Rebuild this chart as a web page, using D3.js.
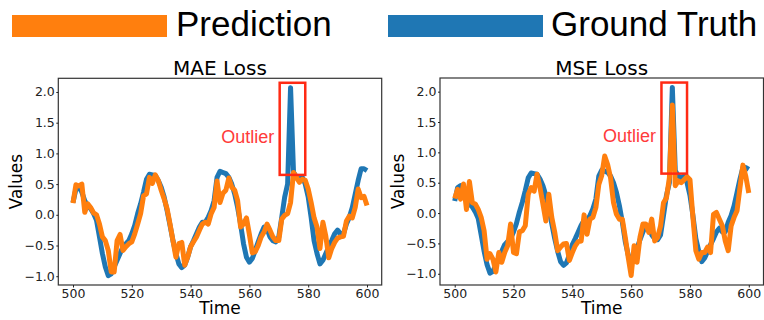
<!DOCTYPE html>
<html>
<head>
<meta charset="utf-8">
<script src="https://cdnjs.cloudflare.com/ajax/libs/d3/7.8.5/d3.min.js"></script>
<style>
body { margin: 0; background: #fff; }
svg { display: block; }
.tick text { font-family: "DejaVu Sans", sans-serif; font-size: 12.5px; fill: #222; }
.tick line { stroke: #222; }
.domain { display: none; }
</style>
</head>
<body>
<div id="chart"></div>
<script>
var width = 764, height = 320;

var time_start = 500, time_end = 600;

var ground_truth = [
    0.2, 0.42, 0.45, 0.37, 0.23, 0.15, 0.1, 0.02, -0.09, -0.36,
    -0.63, -0.85, -0.99, -0.96, -0.85, -0.74, -0.63, -0.52, -0.47, -0.42,
    -0.31, -0.17, 0.02, 0.18, 0.37, 0.58, 0.66, 0.65, 0.64, 0.56,
    0.45, 0.29, 0.07, -0.17, -0.42, -0.63, -0.8, -0.86, -0.82, -0.69,
    -0.52, -0.42, -0.31, -0.2, -0.12, -0.12, -0.04, 0.07, 0.23, 0.61,
    0.71, 0.69, 0.67, 0.61, 0.5, 0.34, 0.12, -0.15, -0.47, -0.69,
    -0.77, -0.71, -0.58, -0.44, -0.31, -0.2, -0.23, -0.36, -0.42, -0.44,
    -0.36, -0.04, 0.29, 0.5, 2.07, 0.7, 0.61, 0.58, 0.61, 0.5,
    0.29, -0.04, -0.42, -0.63, -0.8, -0.74, -0.63, -0.52, -0.42, -0.31,
    -0.25, -0.31, -0.31, -0.15, -0.04, 0.12, 0.34, 0.56, 0.75, 0.75,
    0.72
];

var mae_prediction = [
    0.19, 0.49, 0.47, 0.5, 0.04, 0.18, 0.12, 0.03, 0.0, -0.15,
    -0.36, -0.42, -0.58, -0.93, -0.93, -0.42, -0.32, -0.58, -0.52, -0.47,
    -0.44, -0.31, -0.15, 0.02, 0.31, 0.34, 0.61, 0.51, 0.65, 0.56,
    0.4, 0.26, 0.1, -0.15, -0.42, -0.69, -0.47, -0.45, -0.82, -0.69,
    -0.52, -0.44, -0.36, -0.25, -0.15, -0.12, -0.15, 0.02, 0.12, 0.55,
    0.2, 0.35, 0.4, 0.6, 0.45, 0.4, 0.23, -0.2, -0.15, -0.05,
    -0.32, -0.62, -0.6, -0.5, -0.36, -0.28, -0.15, -0.25, -0.36, -0.42,
    -0.42, -0.07, -0.01, 0.02, 0.2, 0.69, 0.61, 0.53, 0.58, 0.56,
    0.42, 0.2, -0.05, -0.2, -0.55, -0.12, -0.35, -0.7, -0.55, -0.45,
    -0.38, -0.36, -0.35, -0.1, -0.02, -0.05, 0.12, 0.42, 0.28, 0.3,
    0.15
];

var mse_prediction = [
    0.24, 0.39, 0.23, 0.48, 0.06, 0.52, 0.17, 0.15, 0.06, -0.07,
    -0.29, -0.76, -0.67, -0.76, -0.97, -0.65, -0.81, -0.65, -0.54, -0.18,
    -0.65, -0.67, -0.31, -0.29, -0.21, 0.31, 0.42, 0.36, 0.64, 0.42,
    0.15, -0.13, 0.31, -0.07, -0.31, -0.62, -0.56, -0.51, -0.5, -0.78,
    -0.65, -0.54, -0.47, -0.46, -0.03, -0.35, -0.1, -0.07, 0.09, 0.47,
    0.62, 0.94, 0.8, 0.58, 0.17, -0.02, -0.1, -0.1, -0.4, -0.73,
    -1.03, -0.54, -0.81, -0.4, -0.18, -0.18, -0.32, -0.1, -0.46, -0.4,
    -0.21, 0.17, 0.25, 0.58, 1.78, 0.45, 0.53, 0.5, 0.55, 0.6,
    0.55, -0.07, -0.62, -0.76, -0.65, -0.65, -0.56, -0.65, -0.02, 0.01,
    -0.1, -0.21, -0.46, -0.62, -0.21, -0.07, 0.04, 0.42, 0.79, 0.6,
    0.33
];

var time = d3.range(time_start, time_end + 1);

var x_ticks = [500, 520, 540, 560, 580, 600];
var y_ticks = [-1.0, -0.5, 0.0, 0.5, 1.0, 1.5, 2.0];

var series_names = ["Prediction", "Ground Truth"];
var series_colors = ["#ff7f0e", "#1f77b4"];

// outlier box in data coords: [x0, x1, y0, y1]
var outlier_box = [570.3, 579, 0.65, 2.15];
var outlier_label = [550.4, 1.17];

var panels = [
    {title: "MAE Loss", prediction: mae_prediction, left: 58.3, right: 381.7, top: 78.3, bottom: 285},
    {title: "MSE Loss", prediction: mse_prediction, left: 440, right: 763.5, top: 78, bottom: 285}
];

var svg = d3.select("#chart").append("svg").attr("width", width).attr("height", height);

// legend
var legend = svg.append("g");
[[12, 176], [388, 551]].forEach(function(pos, i){
    legend.append("rect")
        .attr("x", pos[0]).attr("y", 15)
        .attr("width", 155).attr("height", 22)
        .attr("fill", series_colors[i]);
    legend.append("text")
        .attr("x", pos[1]).attr("y", 36)
        .attr("font-family", "Liberation Sans, Arial, sans-serif")
        .attr("font-size", 35)
        .attr("fill", "#000")
        .text(series_names[i]);
});

// matplotlib style 5% margin around data
function padded(ext){
    var m = (ext[1] - ext[0]) * 0.05;
    return [ext[0] - m, ext[1] + m];
}

panels.forEach(function(p){
    var g = svg.append("g");

    var x = d3.scaleLinear()
        .domain(padded(d3.extent(time)))
        .range([p.left, p.right]);

    var y = d3.scaleLinear()
        .domain(padded(d3.extent(ground_truth.concat(p.prediction))))
        .range([p.bottom, p.top]);

    var line = d3.line()
        .x(function(d, i){ return x(time[i]); })
        .y(function(d){ return y(d); });

    g.append("path")
        .datum(ground_truth)
        .attr("d", line)
        .attr("fill", "none")
        .attr("stroke", series_colors[1])
        .attr("stroke-width", 5)
        .attr("stroke-linejoin", "round");

    g.append("path")
        .datum(p.prediction)
        .attr("d", line)
        .attr("fill", "none")
        .attr("stroke", series_colors[0])
        .attr("stroke-width", 5)
        .attr("stroke-linejoin", "round");

    // outlier annotation
    g.append("rect")
        .attr("x", x(outlier_box[0]))
        .attr("y", y(outlier_box[3]))
        .attr("width", x(outlier_box[1]) - x(outlier_box[0]))
        .attr("height", y(outlier_box[2]) - y(outlier_box[3]))
        .attr("fill", "none")
        .attr("stroke", "#ff2a14")
        .attr("stroke-width", 2.5);

    g.append("text")
        .attr("x", x(outlier_label[0]))
        .attr("y", y(outlier_label[1]))
        .attr("font-family", "Liberation Sans, Arial, sans-serif")
        .attr("font-size", 18)
        .attr("fill", "#ff3a3a")
        .text("Outlier");

    // frame
    g.append("rect")
        .attr("x", p.left).attr("y", p.top)
        .attr("width", p.right - p.left).attr("height", p.bottom - p.top)
        .attr("fill", "none")
        .attr("stroke", "#333")
        .attr("stroke-width", 1.2);

    g.append("g")
        .attr("transform", "translate(0," + p.bottom + ")")
        .call(d3.axisBottom(x).tickValues(x_ticks).tickSize(2.5).tickPadding(2).tickFormat(d3.format("d")));

    g.append("g")
        .attr("transform", "translate(" + p.left + ",0)")
        .call(d3.axisLeft(y).tickValues(y_ticks).tickSize(2).tickPadding(1.5).tickFormat(d3.format(".1f")));

    var cx = (p.left + p.right) / 2;

    g.append("text")
        .attr("x", cx).attr("y", 74.5)
        .attr("text-anchor", "middle")
        .attr("font-family", "DejaVu Sans, sans-serif")
        .attr("font-size", 20)
        .text(p.title);

    g.append("text")
        .attr("x", cx).attr("y", 313.5)
        .attr("text-anchor", "middle")
        .attr("font-family", "DejaVu Sans, sans-serif")
        .attr("font-size", 17)
        .text("Time");

    g.append("text")
        .attr("transform", "translate(" + (p.left - 36.5) + "," + ((p.top + p.bottom) / 2) + ") rotate(-90)")
        .attr("text-anchor", "middle")
        .attr("font-family", "DejaVu Sans, sans-serif")
        .attr("font-size", 17)
        .text("Values");
});
</script>
</body>
</html>
